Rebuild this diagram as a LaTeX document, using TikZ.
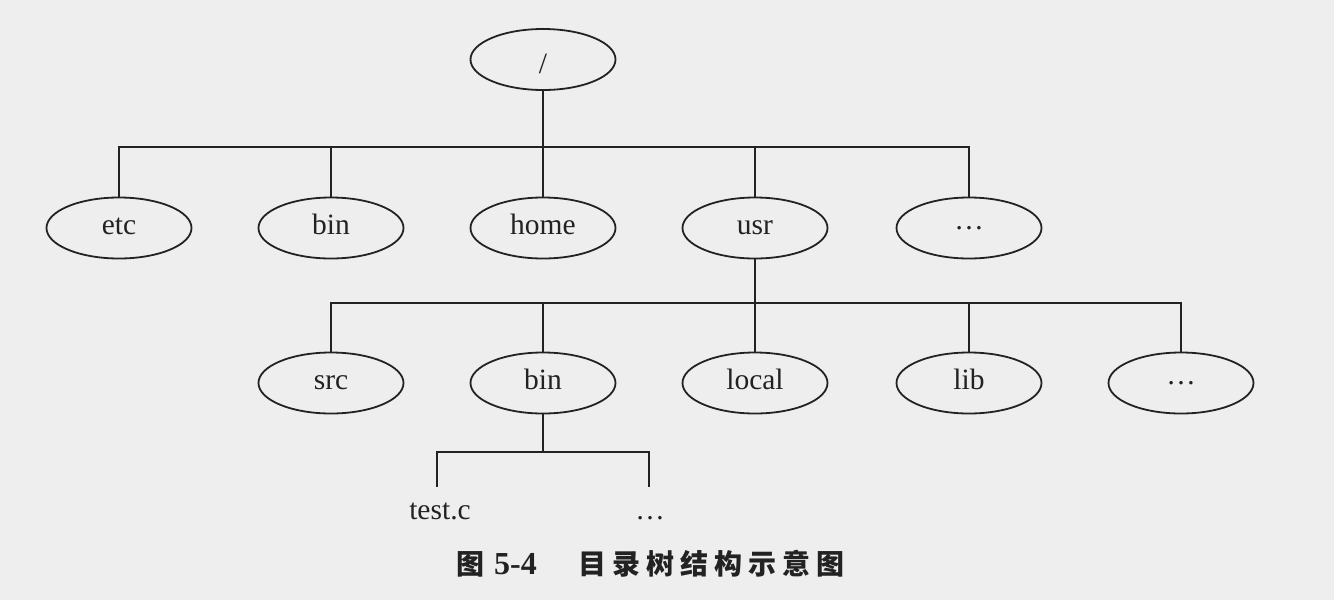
\documentclass[tikz,border=0pt]{standalone}
\usepackage{fontspec}
\setmainfont{Liberation Serif}
\newfontfamily\cjkfont{Noto Sans CJK SC}
\usetikzlibrary{shapes.geometric}
\definecolor{ink}{RGB}{34,34,34}
\definecolor{paper}{RGB}{238,238,238}
\newcommand\cjkc[1]{\makebox[34pt]{#1}}
\tikzset{
  dir/.style={ellipse, draw=ink, line width=1.8pt, minimum width=145pt, minimum height=61pt,
    inner sep=0pt, text=ink, font=\fontsize{29.5}{31}\selectfont, text height=13pt, text depth=0pt},
  leaf/.style={inner xsep=0pt, inner ysep=15pt, text height=17pt, text depth=0pt, text=ink,
    font=\fontsize{29.5}{31}\selectfont, anchor=base},
  conn/.style={draw=ink, line width=1.8pt},
  captext/.style={text=ink, font=\cjkfont\bfseries\fontsize{28}{30}\selectfont, inner sep=0pt, anchor=base west},
}
\begin{document}
\begin{tikzpicture}[x=1pt,y=-1pt]
\fill[paper] (0,0) rectangle (1334,600);
\useasboundingbox (0,0) rectangle (1334,600);
% root
\node[dir] (root) at (543,59.5) {\raisebox{-7pt}{/}};
% level 1
\node[dir] (etc)   at (119,228) {etc};
\node[dir] (bin)   at (331,228) {bin};
\node[dir] (home)  at (543,228) {home};
\node[dir] (usr)   at (755,228) {usr};
\node[dir] (dotsA) at (969,228) {\raisebox{5.5pt}{…}};
% level 2
\node[dir] (src)   at (331,383) {src};
\node[dir] (binB)  at (543,383) {bin};
\node[dir] (local) at (755,383) {local};
\node[dir] (lib)   at (969,383) {lib};
\node[dir] (dotsB) at (1181,383) {\raisebox{5.5pt}{…}};
% level 3
\node[leaf] (test)  at (440,519) {test.c};
\node[leaf] (dotsC) at (650,519) {…};
% bars
\coordinate (b1) at (0,147);
\coordinate (b2) at (0,303);
\coordinate (b3) at (0,452);
% connectors
\draw[conn] (root.south) -- (home.north);
\draw[conn] (etc.north) -- (etc.north |- b1) -- (dotsA.north |- b1) -- (dotsA.north);
\draw[conn] (bin.north) -- (bin.north |- b1);
\draw[conn] (usr.north) -- (usr.north |- b1);
\draw[conn] (usr.south) -- (local.north);
\draw[conn] (src.north) -- (src.north |- b2) -- (dotsB.north |- b2) -- (dotsB.north);
\draw[conn] (binB.north) -- (binB.north |- b2);
\draw[conn] (lib.north) -- (lib.north |- b2);
\draw[conn] (binB.south) -- (binB.south |- b3);
\draw[conn] ([xshift=-3pt]test.north) -- ([xshift=-3pt]test.north |- b3) -- ([xshift=-1pt]dotsC.north |- b3) -- ([xshift=-1pt]dotsC.north);
% caption
\node[captext] (capA) at (453.5,574.5) {\cjkc{图}\hspace{6.5pt}{\rmfamily\bfseries\fontsize{32}{34}\selectfont 5-4}};
\node[captext] (capB) at (575.5,574.5) {\cjkc{目}\cjkc{录}\cjkc{树}\cjkc{结}\cjkc{构}\cjkc{示}\cjkc{意}\cjkc{图}};
\end{tikzpicture}
\end{document}
